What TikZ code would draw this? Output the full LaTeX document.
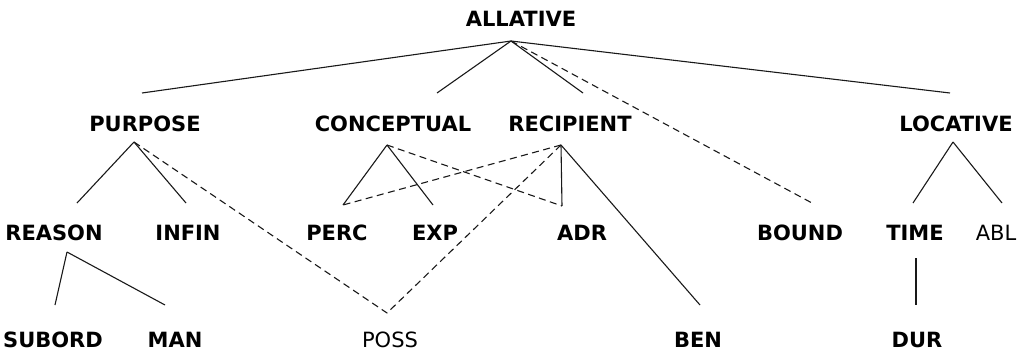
\documentclass[tikz,border=0pt]{standalone}
\usepackage{fontspec}
\setmainfont{DejaVu Sans}
\begin{document}
\begin{tikzpicture}[x=1pt,y=-1pt,
  lbl/.style={inner sep=0pt,font=\fontsize{21}{23}\selectfont\bfseries},
  lbln/.style={inner sep=0pt,font=\fontsize{21}{23}\selectfont},
  link/.style={line width=1.1pt,black!90},
  weak/.style={line width=1.1pt,black!90,dash pattern=on 7pt off 4.5pt}]
\useasboundingbox (0,0) rectangle (1031,351);
% labels
\node[lbl] (allative) at (521,18.5) {ALLATIVE};
\node[lbl] (purpose) at (145,124) {PURPOSE};
\node[lbl] (conceptual) at (393,124) {CONCEPTUAL};
\node[lbl] (recipient) at (570,124) {RECIPIENT};
\node[lbl] (locative) at (956,124) {LOCATIVE};
\node[lbl] (reason) at (54,233) {REASON};
\node[lbl] (infin) at (188,233) {INFIN};
\node[lbl] (perc) at (337,233) {PERC};
\node[lbl] (exp) at (435,233) {EXP};
\node[lbl] (adr) at (582,233) {ADR};
\node[lbl] (bound) at (800,233) {BOUND};
\node[lbl] (time) at (915,233) {TIME};
\node[lbln] (abl) at (996,233) {ABL};
\node[lbl] (subord) at (53,340) {SUBORD};
\node[lbl] (man) at (175,340) {MAN};
\node[lbln] (poss) at (390,340) {POSS};
\node[lbl] (ben) at (698,340) {BEN};
\node[lbl] (dur) at (917,340) {DUR};
% connection points
\coordinate (allative-b) at (511,41);
\coordinate (purpose-t) at (142,93);
\coordinate (conceptual-t) at (437,93);
\coordinate (recipient-t) at (583,93);
\coordinate (locative-t) at (950,93);
\coordinate (purpose-b) at (134,142);
\coordinate (conceptual-b) at (387,145);
\coordinate (recipient-b) at (561,145);
\coordinate (locative-b) at (953,142);
\coordinate (reason-t) at (77,203);
\coordinate (infin-t) at (186,203);
\coordinate (perc-t) at (343,205);
\coordinate (exp-t) at (433,205);
\coordinate (adr-t) at (562,206);
\coordinate (bound-t) at (812,203);
\coordinate (time-t) at (913,203);
\coordinate (abl-t) at (1002,203);
\coordinate (reason-b) at (67,252);
\coordinate (time-b) at (916,258);
\coordinate (subord-t) at (55,305);
\coordinate (man-t) at (165,305);
\coordinate (poss-t) at (387,313);
\coordinate (ben-t) at (700,305);
\coordinate (dur-t) at (916,305);
% solid links
\draw[link] (allative-b) -- (purpose-t);
\draw[link] (allative-b) -- (conceptual-t);
\draw[link] (allative-b) -- (recipient-t);
\draw[link] (allative-b) -- (locative-t);
\draw[link] (purpose-b) -- (reason-t);
\draw[link] (purpose-b) -- (infin-t);
\draw[link] (conceptual-b) -- (perc-t);
\draw[link] (conceptual-b) -- (exp-t);
\draw[link] (recipient-b) -- (adr-t);
\draw[link] (recipient-b) -- (ben-t);
\draw[link] (locative-b) -- (time-t);
\draw[link] (locative-b) -- (abl-t);
\draw[link] (reason-b) -- (subord-t);
\draw[link] (reason-b) -- (man-t);
\draw[link] (time-b) -- (dur-t);
% dashed links
\draw[weak] (allative-b) -- (bound-t);
\draw[weak] (purpose-b) -- (poss-t);
\draw[weak] (recipient-b) -- (poss-t);
\draw[weak] (recipient-b) -- (perc-t);
\draw[weak] (conceptual-b) -- (adr-t);
\end{tikzpicture}
\end{document}
